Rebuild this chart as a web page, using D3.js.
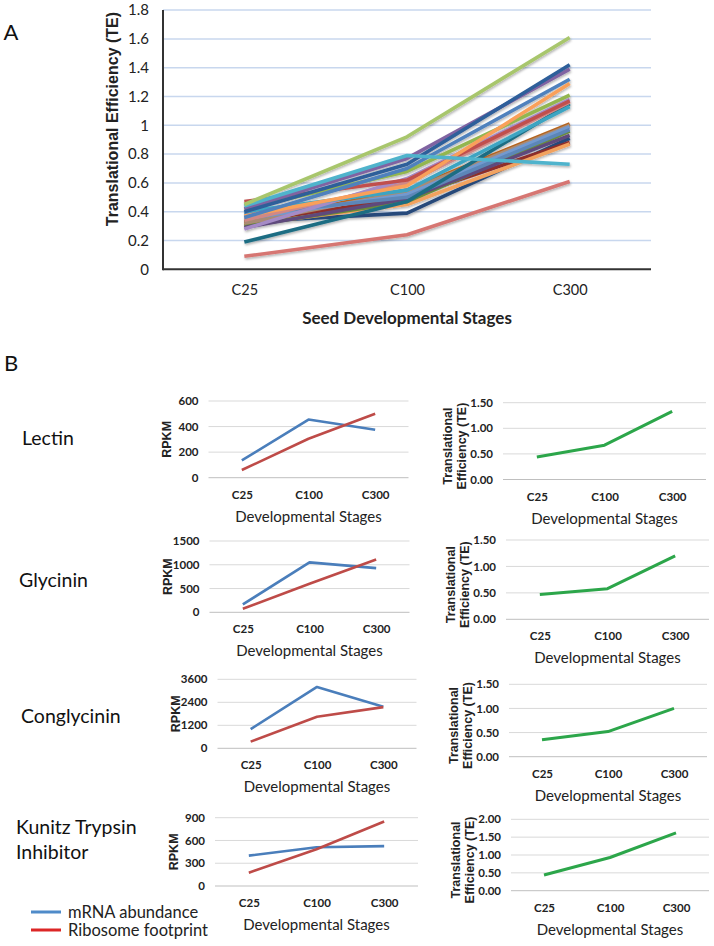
<!DOCTYPE html>
<html><head><meta charset="utf-8">
<script src="https://cdn.jsdelivr.net/npm/d3@7"></script>
<style>
body{margin:0;background:#fff;}
svg{display:block;}
</style></head>
<body>
<svg id="chart" width="714" height="946"></svg>
<script>
// ---------- DATA ----------
const stages = ["C25","C100","C300"];

// Panel A: translational efficiency of individual genes
const teSeriesNames = ["g01","g02","g03","g04","g05","g06","g07","g08","g09","g10","g11","g12","g13","g14","g15","g16","g17","g18","g19","g20","g21","g22"];
const teSeriesValues = [
  [0.33,0.39,0.91],
  [0.32,0.50,0.88],
  [0.31,0.45,0.87],
  [0.30,0.47,0.96],
  [0.29,0.49,0.93],
  [0.33,0.55,1.01],
  [0.32,0.54,1.00],
  [0.35,0.52,0.99],
  [0.38,0.50,0.97],
  [0.19,0.47,1.15],
  [0.34,0.60,1.16],
  [0.28,0.63,1.18],
  [0.47,0.62,1.17],
  [0.40,0.55,1.13],
  [0.42,0.68,1.21],
  [0.37,0.58,1.29],
  [0.36,0.70,1.32],
  [0.42,0.77,1.39],
  [0.40,0.73,1.42],
  [0.09,0.24,0.61],
  [0.44,0.79,0.73],
  [0.45,0.92,1.61]
];
const teSeriesColors = ["#27497a","#8e2f2c","#f2a25e","#6a8b3a","#5e4a7c","#b5641f","#a98b74","#7299cf","#5b86b8","#1f6d83","#d08886","#a58bc6","#c0504d","#3ea4c2","#93b650","#f9a05a","#4f81bd","#8064a2","#2e5e9a","#d67672","#4fb3cc","#a8c66c"];
const yTicksA = [0,0.2,0.4,0.6,0.8,1,1.2,1.4,1.6,1.8];

// Panel B
const genes = ["Lectin","Glycinin","Conglycinin","Kunitz Trypsin Inhibitor"];
const geneLabelLines = [["Lectin"],["Glycinin"],["Conglycinin"],["Kunitz Trypsin","Inhibitor"]];
const mrnaValues = [[135,455,375],[165,1050,930],[1000,3200,2170],[400,510,525]];
const riboValues = [[60,305,500],[75,600,1110],[350,1650,2150],[175,485,850]];
const teValues = [[0.44,0.67,1.33],[0.47,0.58,1.20],[0.35,0.52,1.00],[0.44,0.93,1.62]];
const rpkmTicks = [[0,200,400,600],[0,500,1000,1500],[0,1200,2400,3600],[0,300,600,900]];
const teTicks = [[0,0.5,1,1.5],[0,0.5,1,1.5],[0,0.5,1,1.5],[0,0.5,1,1.5,2]];
const legendLabels = ["mRNA abundance","Ribosome footprint"];

// ---------- LAYOUT ----------
const svg = d3.select("#chart");
const CAL = "Lato, 'Open Sans', sans-serif";
const ARB = "'Liberation Sans', Arial, sans-serif";

const defs = svg.append("defs");
const f = defs.append("filter").attr("id","sh").attr("x","-10%").attr("y","-10%").attr("width","120%").attr("height","130%");
f.append("feDropShadow").attr("dx",0.8).attr("dy",1.6).attr("stdDeviation",0.9).attr("flood-color","#000").attr("flood-opacity",0.3);

// ===== Panel A =====
const A = {x0:163, x1:651, top:10.1, bottom:269.3};
const xA = d3.scalePoint().domain(stages).range([A.x0, A.x1]).padding(0.5);
const yA = d3.scaleLinear().domain([0,1.8]).range([A.bottom, A.top]);

svg.append("text").attr("x",11).attr("y",40).attr("text-anchor","middle")
  .attr("font-family",CAL).attr("font-size",22).attr("fill","#111").text("A");

const gA = svg.append("g");
gA.selectAll("line.grid").data(yTicksA.filter(d=>d>0)).join("line")
  .attr("x1",A.x0).attr("x2",A.x1).attr("y1",d=>yA(d)).attr("y2",d=>yA(d))
  .attr("stroke","#c8d7ee").attr("stroke-width",1.5);

const yAxisA = d3.axisLeft(yA).tickValues(yTicksA).tickSize(0).tickPadding(14)
  .tickFormat(d=>String(+d.toFixed(1)));
const ga = gA.append("g").attr("transform",`translate(${A.x0},0)`).call(yAxisA);
ga.select(".domain").remove();
ga.selectAll("text").attr("font-family",CAL).attr("font-size",15).attr("fill","#222");

const xAxisA = d3.axisBottom(xA).tickSize(0).tickPadding(15);
const gx = gA.append("g").attr("transform",`translate(0,${A.bottom})`).call(xAxisA);
gx.select(".domain").remove();
gx.selectAll("text").attr("font-family",CAL).attr("font-size",14.5).attr("fill","#222");

const lineA = d3.line().x((d,i)=>xA(stages[i])).y(d=>yA(d));
gA.append("g").attr("filter","url(#sh)").selectAll("path").data(teSeriesValues).join("path")
  .attr("d",lineA).attr("fill","none").attr("stroke",(d,i)=>teSeriesColors[i])
  .attr("stroke-width",3.6).attr("stroke-linejoin","round");

gA.append("line").attr("x1",A.x0).attr("x2",A.x0).attr("y1",A.top).attr("y2",A.bottom+1)
  .attr("stroke","#333").attr("stroke-width",2);
gA.append("line").attr("x1",A.x0).attr("x2",A.x1).attr("y1",A.bottom).attr("y2",A.bottom)
  .attr("stroke","#333").attr("stroke-width",2);

gA.append("text").attr("transform",`translate(118,${(A.top+222)/2+3}) rotate(-90)`)
  .attr("text-anchor","middle").attr("font-family",ARB).attr("font-weight","bold")
  .attr("font-size",16).attr("fill","#222").text("Translational Efficiency (TE)");
gA.append("text").attr("x",407).attr("y",324).attr("text-anchor","middle")
  .attr("font-family",CAL).attr("font-weight","bold").attr("font-size",17).attr("fill","#222")
  .text("Seed Developmental Stages");

// ===== Panel B =====
svg.append("text").attr("x",11).attr("y",371).attr("text-anchor","middle")
  .attr("font-family",CAL).attr("font-size",22).attr("fill","#111").text("B");

const rpkmBox = [
  {x0:208.5,x1:408.5,top:401,bottom:477.7},
  {x0:209.5,x1:409.5,top:541,bottom:612.3},
  {x0:217.5,x1:416.5,top:679.3,bottom:748.3},
  {x0:215,x1:418,top:817.7,bottom:886}
];
const teBox = [
  {x0:503,x1:706,top:402.7,bottom:479.5},
  {x0:506,x1:709,top:540,bottom:619.3},
  {x0:509,x1:707,top:684.3,bottom:756.7},
  {x0:511,x1:709,top:819.3,bottom:890.7}
];
const geneLabelPos = [{x:22,y:438},{x:19,y:580},{x:21,y:716},{x:16,y:827}];

function smallChart(box, ticks, series, colors, fmt, yLabelLines){
  const x = d3.scalePoint().domain(stages).range([box.x0,box.x1]).padding(0.5);
  const y = d3.scaleLinear().domain([0,ticks[ticks.length-1]]).range([box.bottom,box.top]);
  const g = svg.append("g");
  g.selectAll("line.grid").data(ticks).join("line")
    .attr("x1",box.x0).attr("x2",box.x1).attr("y1",d=>y(d)).attr("y2",d=>y(d))
    .attr("stroke",(d)=>d===0?"#bfbfbf":"#d9d9d9").attr("stroke-width",1);
  const ay = g.append("g").attr("transform",`translate(${box.x0},0)`)
    .call(d3.axisLeft(y).tickValues(ticks).tickSize(0).tickPadding(10).tickFormat(fmt));
  ay.select(".domain").remove();
  ay.selectAll("text").attr("font-family",CAL).attr("font-weight","bold").attr("font-size",11.5).attr("fill","#222");
  const ax = g.append("g").attr("transform",`translate(0,${box.bottom})`)
    .call(d3.axisBottom(x).tickSize(0).tickPadding(13));
  ax.select(".domain").remove();
  ax.selectAll("text").attr("font-family",CAL).attr("font-weight","bold").attr("font-size",11.5).attr("fill","#222");
  const ln = d3.line().x((d,i)=>x(stages[i])).y(d=>y(d));
  series.forEach((s,i)=>{
    g.append("path").attr("d",ln(s)).attr("fill","none").attr("stroke",colors[i])
      .attr("stroke-width",colors.length===1?3:2.6).attr("stroke-linejoin","round");
  });
  g.append("text").attr("x",(box.x0+box.x1)/2).attr("y",box.bottom+44).attr("text-anchor","middle")
    .attr("font-family",CAL).attr("font-size",15).attr("fill","#222").text("Developmental Stages");
  const cy = (box.top+box.bottom)/2;
  const n = yLabelLines.length;
  yLabelLines.forEach((t,k)=>{
    const lx = box.x0 - 42 - (n-1-k)*13.5;
    g.append("text").attr("transform",`translate(${lx+4.5},${cy + (n>1?5:0)}) rotate(-90)`)
      .attr("text-anchor","middle").attr("font-family",ARB).attr("font-weight","bold")
      .attr("font-size",12.5).attr("fill","#222").text(t);
  });
}

genes.forEach((gname,i)=>{
  smallChart(rpkmBox[i], rpkmTicks[i], [mrnaValues[i], riboValues[i]], ["#4a7ebb","#be4b48"], d=>String(d), ["RPKM"]);
  smallChart(teBox[i], teTicks[i], [teValues[i]], ["#2ca64a"], d3.format(".2f"), ["Translational","Efficiency (TE)"]);
  const p = geneLabelPos[i];
  const lines = geneLabelLines[i];
  lines.forEach((t,k)=>{
    svg.append("text").attr("x",p.x).attr("y",p.y + 7 + k*24.5)
      .attr("font-family",CAL).attr("font-size",19.5).attr("fill","#111").text(t);
  });
});

// legend
const legendColors = ["#4f8bc9","#dc2626"];
legendLabels.forEach((t,i)=>{
  const yy = 912 + i*18;
  svg.append("line").attr("x1",31).attr("x2",61).attr("y1",yy).attr("y2",yy)
    .attr("stroke",legendColors[i]).attr("stroke-width",3);
  svg.append("text").attr("x",68).attr("y",yy+6).attr("font-family",CAL)
    .attr("font-size",16.5).attr("fill","#222").text(t);
});
</script>
</body></html>
